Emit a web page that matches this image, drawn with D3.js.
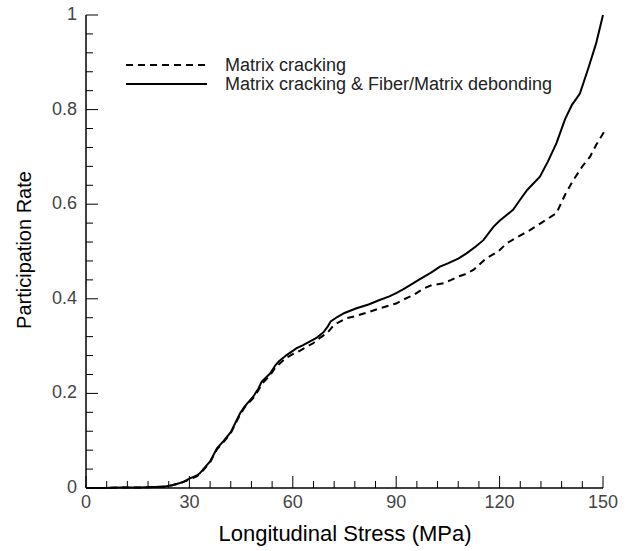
<!DOCTYPE html>
<html>
<head>
<meta charset="utf-8">
<script src="https://cdn.jsdelivr.net/npm/d3@7"></script>
<style>
  body { margin: 0; background: #fff; }
  svg { display: block; font-family: "Liberation Sans", Arial, sans-serif; }
  .tick-label { font-size: 18px; fill: #444; }
  .curve { fill: none; stroke: #000; stroke-width: 2; }
  .dashed { stroke-dasharray: 7 5; }
</style>
</head>
<body>
<svg width="631" height="551"></svg>
<script>
// values
var seriesNames = ["Matrix cracking", "Matrix cracking & Fiber/Matrix debonding"];

var stressDebond = [0, 5, 10, 15, 20, 23, 25, 28, 30, 32, 33, 35, 36, 38, 40, 42, 44.7, 46, 48.5, 50, 51, 53.4, 55, 56, 58.2, 60, 61, 63, 65, 67, 69, 70, 71, 73, 75, 78.5, 82, 85, 88, 90, 92, 95, 97, 100, 102.7, 105, 108, 110.4, 113, 115.3, 118.2, 120, 123.9, 126, 128, 131.7, 134, 136.5, 139, 141, 143.3, 145.9, 148, 150];
var rateDebond = [0, 0, 0.001, 0.001, 0.002, 0.003, 0.006, 0.012, 0.02, 0.026, 0.031, 0.048, 0.056, 0.084, 0.1, 0.118, 0.158, 0.172, 0.193, 0.21, 0.225, 0.242, 0.26, 0.268, 0.281, 0.29, 0.295, 0.302, 0.31, 0.318, 0.33, 0.34, 0.352, 0.362, 0.37, 0.38, 0.388, 0.397, 0.405, 0.412, 0.42, 0.433, 0.442, 0.455, 0.468, 0.475, 0.485, 0.496, 0.51, 0.524, 0.552, 0.565, 0.588, 0.61, 0.63, 0.658, 0.69, 0.729, 0.78, 0.81, 0.834, 0.891, 0.94, 1.0];

var stressCrack = [0, 5, 10, 15, 20, 23, 25, 28, 30, 32, 33, 35, 36, 38, 40, 42, 44.7, 46, 48.5, 50, 51, 53.4, 55, 58, 60, 62, 65.9, 68, 70, 72, 75.6, 78, 82, 85.3, 88, 90, 92, 95, 98, 100, 103.7, 106, 108, 110, 112.4, 116, 119.6, 122, 125, 128.8, 132, 136.5, 139, 141.4, 144, 146.2, 148, 150.3];
var rateCrack = [0, 0, 0.001, 0.001, 0.002, 0.003, 0.006, 0.012, 0.018, 0.024, 0.029, 0.046, 0.054, 0.082, 0.098, 0.116, 0.155, 0.17, 0.19, 0.206, 0.22, 0.238, 0.255, 0.275, 0.283, 0.29, 0.306, 0.318, 0.328, 0.345, 0.359, 0.363, 0.372, 0.38, 0.386, 0.39, 0.398, 0.408, 0.422, 0.428, 0.433, 0.44, 0.447, 0.452, 0.461, 0.485, 0.5, 0.517, 0.53, 0.545, 0.56, 0.581, 0.62, 0.651, 0.68, 0.7, 0.725, 0.753];

var xTicks = [0, 30, 60, 90, 120, 150];
var yTicks = [0, 0.2, 0.4, 0.6, 0.8, 1];

document.addEventListener("DOMContentLoaded", function () {

  var svg = d3.select("svg");

  var x = d3.scaleLinear().domain([0, 150]).range([86, 603]);
  var y = d3.scaleLinear().domain([0, 1]).range([488, 15]);

  // axes: ticks point into the plot, minor ticks every fifth
  var xMinor = d3.range(0, 151, 6);
  var yMinor = d3.range(0, 1.001, 0.04);

  var xAxis = svg.append("g").attr("transform", "translate(0,488)");
  xAxis.append("line").attr("x1", x(0)).attr("x2", x(150)).attr("stroke", "#000").attr("stroke-width", 1.5);
  xAxis.selectAll("line.minor").data(xMinor).enter().append("line")
    .attr("class", "minor")
    .attr("x1", function (d) { return x(d); }).attr("x2", function (d) { return x(d); })
    .attr("y1", 0)
    .attr("y2", function (d) { return d % 30 === 0 ? -12 : -7; })
    .attr("stroke", "#000").attr("stroke-width", 1);
  xAxis.selectAll("text").data(xTicks).enter().append("text")
    .attr("class", "tick-label")
    .attr("x", function (d) { return x(d); })
    .attr("y", 20)
    .attr("text-anchor", "middle")
    .text(function (d) { return d; });

  var yAxis = svg.append("g").attr("transform", "translate(86,0)");
  yAxis.append("line").attr("y1", y(0)).attr("y2", y(1)).attr("stroke", "#000").attr("stroke-width", 1.5);
  yAxis.selectAll("line.minor").data(yMinor).enter().append("line")
    .attr("class", "minor")
    .attr("y1", function (d) { return y(d); }).attr("y2", function (d) { return y(d); })
    .attr("x1", 0)
    .attr("x2", function (d, i) { return i % 5 === 0 ? 12 : 7; })
    .attr("stroke", "#000").attr("stroke-width", 1);
  yAxis.selectAll("text").data(yTicks).enter().append("text")
    .attr("class", "tick-label")
    .attr("x", -9)
    .attr("y", function (d) { return y(d) + 5; })
    .attr("text-anchor", "end")
    .text(function (d) { return d; });

  // axis titles
  svg.append("text")
    .attr("x", 345).attr("y", 541)
    .attr("text-anchor", "middle")
    .style("font-size", "22px").style("fill", "#000")
    .text("Longitudinal Stress (MPa)");

  svg.append("text")
    .attr("transform", "translate(31,250) rotate(-90)")
    .attr("text-anchor", "middle")
    .style("font-size", "20px").style("fill", "#000")
    .text("Participation Rate");

  // curves
  var line = d3.line()
    .x(function (d) { return x(d[0]); })
    .y(function (d) { return y(d[1]); });

  var crackPts = d3.zip(stressCrack, rateCrack);
  var debondPts = d3.zip(stressDebond, rateDebond);

  svg.append("path").datum(crackPts).attr("class", "curve dashed").attr("d", line);
  svg.append("path").datum(debondPts).attr("class", "curve").attr("d", line);

  // legend
  var legend = svg.append("g");
  var rows = [{ name: seriesNames[0], dash: true, y: 65 }, { name: seriesNames[1], dash: false, y: 84 }];
  rows.forEach(function (r) {
    legend.append("line")
      .attr("x1", 126).attr("x2", 207)
      .attr("y1", r.y).attr("y2", r.y)
      .attr("class", r.dash ? "curve dashed" : "curve");
    legend.append("text")
      .attr("x", 225).attr("y", r.y + 6)
      .style("font-size", "18px").style("fill", "#222")
      .text(r.name);
  });

});
</script>
</body>
</html>
